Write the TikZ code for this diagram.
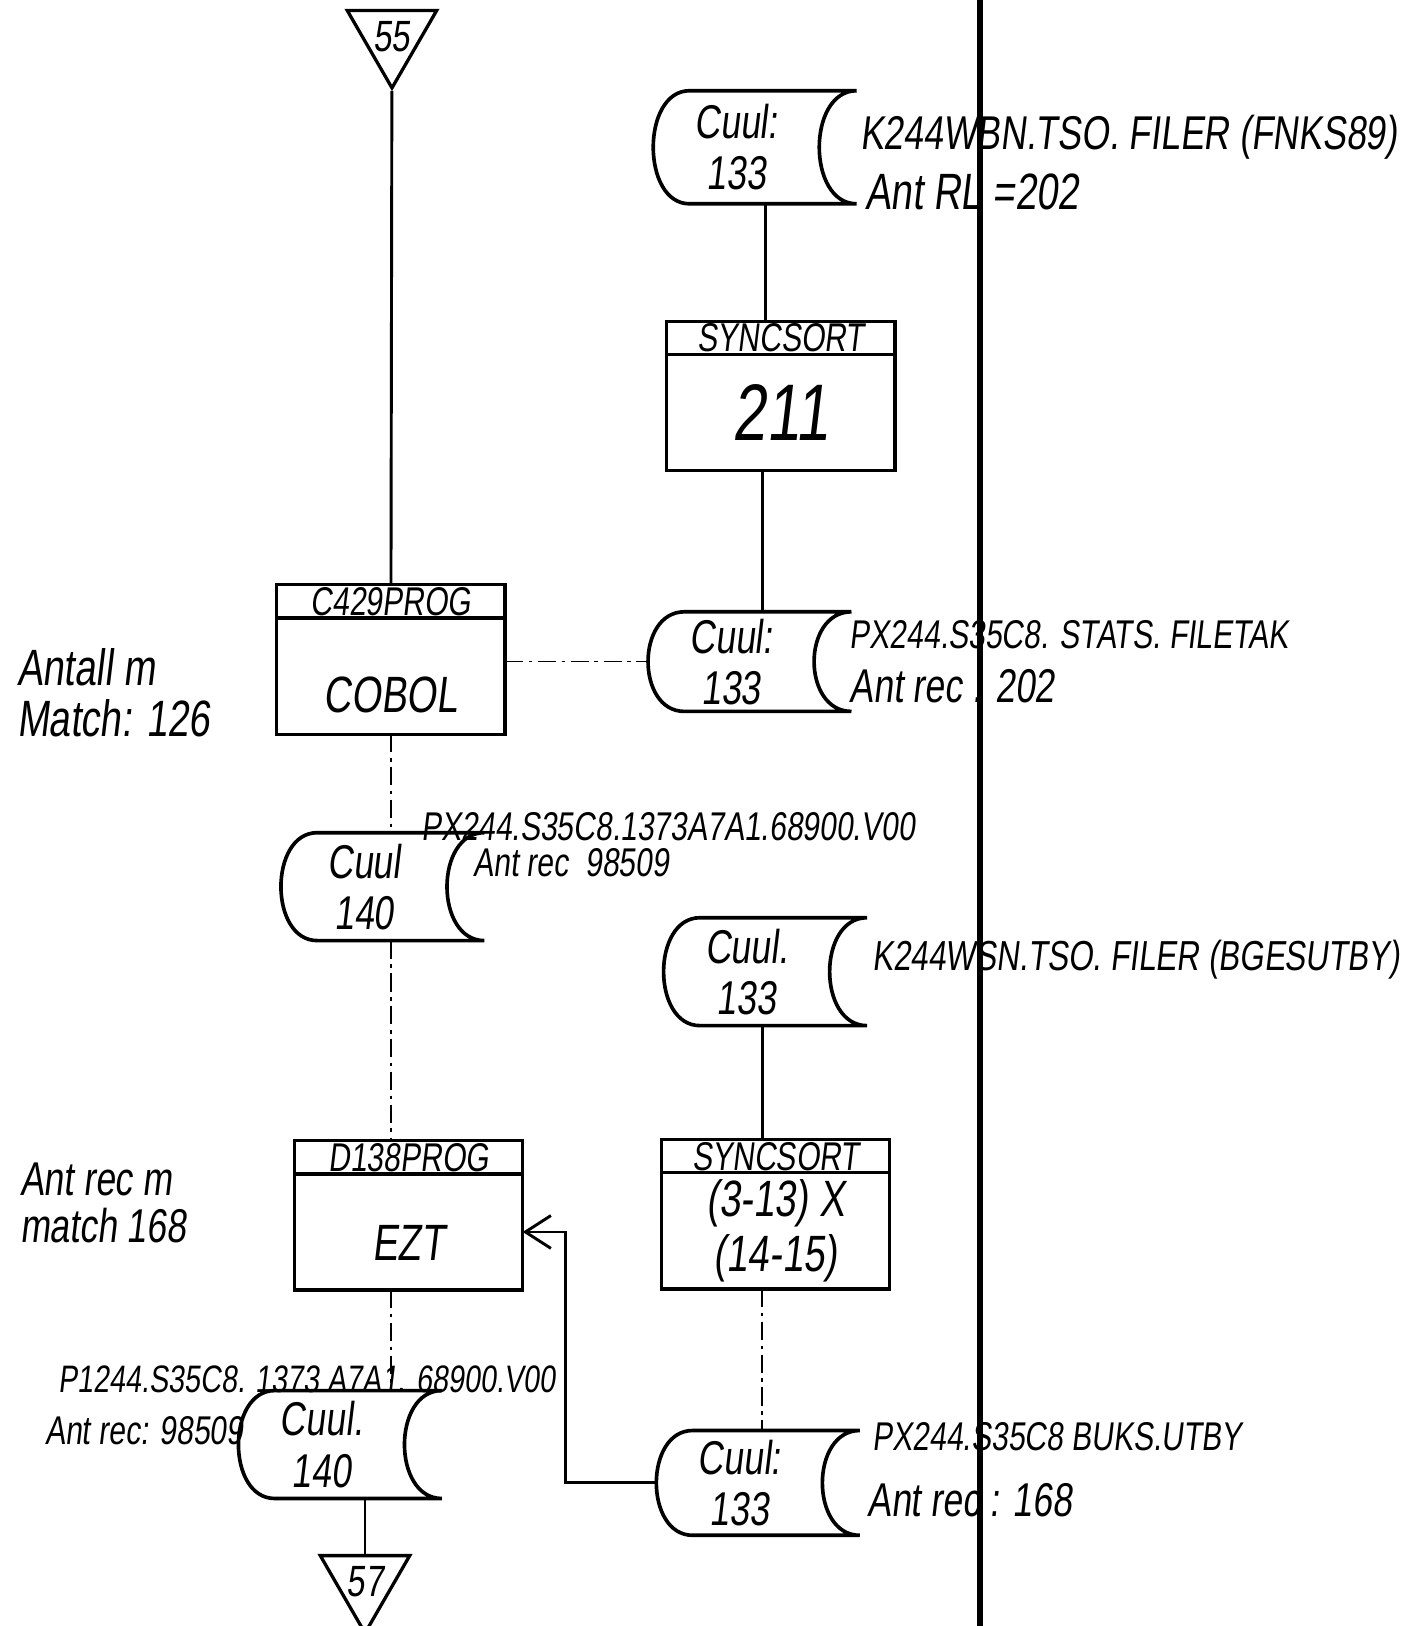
\documentclass[tikz,border=0pt]{standalone}
\usepackage{fontspec}
\newfontfamily\hand[FakeSlant=0.12,FakeStretch=0.75]{Liberation Sans}
\usetikzlibrary{positioning,shapes.geometric,arrows.meta}

% outline of a stored-data node (convex left, concave right)
\newcommand{\tapeshape}[1]{%
  \draw[line width=1pt] ([xshift=3.5mm]#1.north west) -- ([xshift=3.6mm]#1.north east)
    .. controls ([xshift=-1.2mm]#1.north east) and ([xshift=-1.2mm]#1.south east) .. ([xshift=3.6mm]#1.south east)
    -- ([xshift=3.5mm]#1.south west)
    .. controls ([xshift=-1.17mm]#1.south west) and ([xshift=-1.17mm]#1.north west) .. cycle;}

\begin{document}
\begin{tikzpicture}[x=0.01cm, y=-0.01cm, thick, font=\hand,
    proc/.style={draw, line width=0.9pt, minimum width=2.2cm, minimum height=1.12cm,
                 inner sep=0pt, outer sep=0pt, align=center},
    head/.style={draw, line width=0.9pt, minimum width=2.2cm, minimum height=0.32cm,
                 inner sep=0pt, outer sep=0pt, font=\hand\fontsize{11}{11}\selectfont},
    storage/.style={minimum width=1.6cm, minimum height=1.04cm, inner sep=0pt, outer sep=0pt,
                    align=center, font=\hand\fontsize{13}{14}\selectfont},
    offpage/.style={draw, line width=0.9pt, regular polygon, regular polygon sides=3,
                    shape border rotate=180, minimum size=0.88cm, inner sep=0pt,
                    font=\hand\fontsize{12}{12}\selectfont},
    lab/.style={anchor=west, inner sep=0pt, align=left, font=\hand\fontsize{#1}{#1}\selectfont},
    faint/.style={thin, dash pattern=on 5pt off 1.5pt on 1pt off 1.5pt}]
  \path[fill=white, use as bounding box] (0,0) rectangle (1361,1568);

  % off-page connectors
  \node[offpage] (tr1) at (378,35) {55};
  \node[offpage] (tr2) at (352,1525) {57};

  % programs and sorts
  \node[proc, label={[above=2pt, font=\hand\fontsize{14}{14}\selectfont]south:COBOL}] (c1) at (377,652) {};
  \node[head, above=0pt of c1] (c1h) {C429PROG};
  \node[proc, font=\hand\fontsize{22}{22}\selectfont] (s1) at (753,398) {211};
  \node[head, above=0pt of s1] (s1h) {SYNCSORT};
  \node[proc, label={[above=0.15cm, font=\hand\fontsize{14}{14}\selectfont]south:EZT}] (d1) at (394,1188) {};
  \node[head, above=0pt of d1] (d1h) {D138PROG};
  \node[proc, font=\hand\fontsize{14}{15}\selectfont] (s2) at (748,1187) {(3-13) X\\(14-15)};
  \node[head, above=0pt of s2] (s2h) {SYNCSORT};

  % stored data
  \node[storage, minimum height=1.09cm] (t1) at (710,142) {Cuul:\\133};
  \node[storage, minimum height=0.96cm] (t2) at (705,638) {Cuul:\\133};
  \node[storage] (m1) at (351,855) {Cuul\\140};
  \node[storage] (t3) at (720,937) {Cuul.\\133};
  \node[storage] (m2) at (310,1393) {Cuul.\\140};
  \node[storage, minimum height=1.01cm] (t4) at (713,1430) {Cuul:\\133};
  \foreach \n in {t1,t2,m1,t3,m2,t4} {\tapeshape{\n}}

  % file names
  \node[lab=13] (l1) at (828,132) {K244WBN.TSO. FILER (FNKS89)};
  \node[lab=14] (l2) at (833,185) {Ant RL =202};
  \node[lab=11] (l3) at (818,612) {PX244.S35C8. STATS. FILETAK};
  \node[lab=13] (l4) at (818,662) {Ant rec : 202};
  \node[lab=11] (l5) at (405,797) {PX244.S35C8.1373A7A1.68900.V00};
  \node[lab=11] (l6) at (455,832) {Ant rec \ 98509};
  \node[lab=11.5] (l7) at (840,925) {K244WSN.TSO. FILER (BGESUTBY)};
  \node[lab=10.5] (l8) at (55,1330) {P1244.S35C8. 1373 A7A1. 68900.V00};
  \node[lab=11] (l9) at (42,1380) {Ant rec: 98509};
  \node[lab=11] (l10) at (840,1385) {PX244.S35C8 BUKS.UTBY};
  \node[lab=13] (l11) at (835,1447) {Ant rec : 168};
  \node[lab=14] (n1) at (15,668) {Antall m\\Match: 126};
  \node[lab=13] (n2) at (18,1160) {Ant rec m\\match 168};

  \path (tr1) edge (c1h)
    ([xshift=0.28cm]t1.south) edge ([xshift=0.28cm]t1.south |- s1h.north)
    ([xshift=-0.18cm]s1.south) edge ([xshift=-0.18cm]s1.south |- t2.north)
    (c1.east |- t2.west) edge[faint] (t2.west)
    (c1.south) edge[faint] (c1.south |- m1.north)
    (c1.south |- m1.south) edge[faint] (c1.south |- d1h.north)
    ([xshift=-0.13cm]s2h.north |- t3.south) edge ([xshift=-0.13cm]s2h.north)
    ([xshift=-0.13cm]s2.south) edge[faint] ([xshift=-0.13cm]s2.south |- t4.north)
    (c1.south |- d1.south) edge[faint] (c1.south |- m2.north)
    (m2.south -| tr2.north) edge (tr2.north);
  \draw[-{Straight Barb[length=7pt,width=9pt]}] (t4.west) -- ++(-0.88cm,0) |- (d1.east);

  % page divider
  \draw[line width=1.6pt] (945,0) -- (945,1568);
\end{tikzpicture}
\end{document}
